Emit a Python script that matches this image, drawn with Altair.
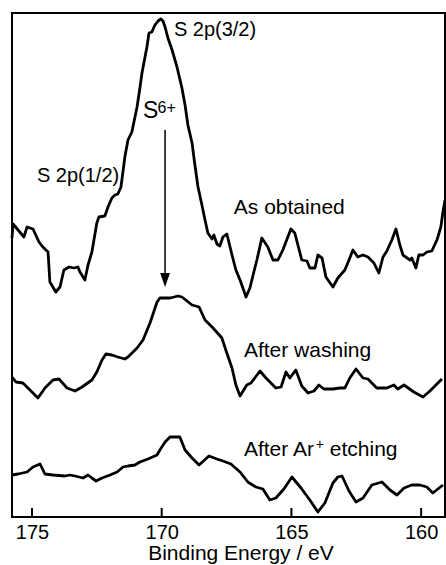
import altair as alt
import pandas as pd

FONT = "Liberation Sans"

# ---- data (binding energy in eV, intensity in arbitrary units) ----
top_ev = [175.77, 175.73, 175.31, 175.19, 174.96, 174.73, 174.58, 174.38, 174.31, 174.08,
          173.92, 173.77, 173.57, 173.38, 173.23, 173.15, 172.96, 172.84, 172.69, 172.50,
          172.42, 172.19, 172.07, 171.92, 171.80, 171.69, 171.57, 171.42, 171.30, 171.15,
          171.03, 170.95, 170.84, 170.76, 170.68, 170.57, 170.49, 170.38, 170.26, 170.14,
          170.03, 169.95, 169.87, 169.76, 169.60, 169.41, 169.22, 169.10, 168.99, 168.83,
          168.72, 168.60, 168.45, 168.33, 168.22, 168.06, 167.99, 167.87, 167.76, 167.64,
          167.49, 167.45, 167.29, 167.14, 166.98, 166.87, 166.75, 166.60, 166.41, 166.33,
          166.14, 165.91, 165.71, 165.52, 165.33, 165.02, 164.87, 164.60, 164.40, 164.29,
          164.09, 163.98, 163.82, 163.67, 163.40, 163.21, 162.94, 162.78, 162.63, 162.44,
          162.24, 162.05, 161.82, 161.63, 161.47, 161.32, 161.13, 160.97, 160.82, 160.70,
          160.43, 160.36, 160.20, 160.09, 159.93, 159.78, 159.59, 159.39, 159.24, 159.16,
          159.08]
top_int = [279, 293, 280, 290, 288, 275, 270, 265, 235, 225,
           230, 247, 250, 249, 250, 245, 237, 252, 265, 294,
           300, 301, 310, 319, 322, 323, 330, 360, 377, 385,
           400, 410, 429, 444, 455, 470, 484, 485, 492, 496,
           498, 496, 490, 479, 467, 450, 429, 412, 392, 374,
           352, 330, 312, 297, 284, 278, 282, 273, 271, 280,
           283, 279, 262, 247, 237, 229, 220, 229, 249, 257,
           279, 270, 257, 257, 267, 288, 284, 257, 256, 249,
           249, 262, 259, 240, 230, 239, 247, 257, 267, 260,
           262, 260, 254, 244, 260, 266, 277, 288, 272, 262,
           257, 259, 249, 262, 262, 265, 266, 277, 290, 305,
           317]

mid_ev = [175.77, 175.62, 175.35, 175.00, 174.77, 174.50, 174.19, 173.96, 173.65, 173.34,
          173.07, 172.69, 172.50, 172.30, 172.15, 171.92, 171.69, 171.42, 171.30, 170.95,
          170.72, 170.45, 170.18, 170.07, 169.68, 169.37, 169.22, 168.83, 168.56, 168.33,
          168.02, 167.68, 167.49, 167.29, 167.14, 166.98, 166.72, 166.56, 166.21, 165.98,
          165.60, 165.40, 165.21, 165.06, 164.83, 164.60, 164.36, 164.13, 163.94, 163.75,
          163.40, 163.13, 162.94, 162.75, 162.51, 162.24, 162.05, 161.71, 161.32, 161.05,
          160.90, 160.66, 160.28, 159.93, 159.66, 159.20]
mid_int = [140, 135, 134, 125, 119, 129, 137, 138, 129, 126,
           130, 137, 145, 157, 163, 162, 160, 158, 160, 169,
           177, 194, 215, 219, 219, 221, 220, 212, 210, 197,
           189, 179, 164, 149, 132, 121, 132, 134, 146, 139,
           129, 130, 145, 139, 147, 131, 124, 126, 132, 128,
           128, 129, 129, 139, 148, 139, 138, 129, 129, 132,
           128, 132, 125, 120, 126, 138]

bot_ev = [175.77, 175.54, 175.19, 174.96, 174.69, 174.50, 174.19, 173.73, 173.54, 173.34,
          173.03, 172.84, 172.69, 172.53, 172.30, 171.99, 171.72, 171.49, 171.30, 171.03,
          170.84, 170.53, 170.18, 170.07, 169.87, 169.68, 169.30, 169.10, 168.83, 168.56,
          168.18, 167.87, 167.64, 167.33, 166.98, 166.68, 166.37, 166.10, 165.83, 165.60,
          165.29, 164.98, 164.63, 164.29, 163.98, 163.71, 163.40, 163.21, 163.05, 162.78,
          162.51, 162.24, 161.90, 161.51, 161.20, 160.93, 160.66, 160.36, 160.05, 159.78,
          159.55, 159.16]
bot_int = [42, 43, 45, 50, 53, 43, 42, 41, 42, 41,
           39, 42, 39, 36, 39, 42, 45, 50, 51, 52,
           55, 58, 62, 67, 75, 80, 80, 67, 59, 52,
           61, 58, 56, 53, 45, 35, 30, 28, 17, 19,
           28, 40, 29, 17, 5, 14, 34, 40, 41, 26,
           15, 19, 32, 35, 27, 22, 29, 32, 32, 30,
           24, 32]

series_names = ["As obtained", "After washing", "After Ar+ etching"]
tick_values = [175, 170, 165, 160]
x_domain = [159.08, 175.77]
y_domain = [0, 504]

# annotation texts and their anchor positions (eV, intensity) with font sizes
ann_text = ["S 2p(3/2)", "S 2p(1/2)", "S", "6+", "As obtained", "After washing",
            "After Ar", "+", "etching"]
ann_ev = [169.53, 174.81, 170.72, 170.16, 167.22, 166.83, 166.83, 164.06, 163.52]
ann_int = [481, 335, 399, 404, 303, 160, 61, 68, 61]
ann_size = [20, 20, 23, 16, 21, 21, 21, 14, 21]

arrow_ev = [169.87]
arrow_top = [387]
arrow_end = [244]
arrow_head = [237]

# ---- build tables ----
frames = []
for name, ev, it in zip(series_names, [top_ev, mid_ev, bot_ev], [top_int, mid_int, bot_int]):
    frames.append(pd.DataFrame({"ev": ev, "intensity": it, "series": name}))
curves = pd.concat(frames, ignore_index=True)
ann = pd.DataFrame({"ev": ann_ev, "intensity": ann_int, "text": ann_text, "fs": ann_size})
arrow = pd.DataFrame({"ev": arrow_ev, "y1": arrow_top, "y2": arrow_end, "head": arrow_head})
ticks = pd.DataFrame({"ev": tick_values})

xscale = alt.Scale(domain=x_domain, reverse=True, nice=False, zero=False)
yscale = alt.Scale(domain=y_domain, nice=False, zero=False)

xaxis = alt.Axis(values=tick_values, format="d", grid=False, ticks=False, tickSize=0,
                 domain=False, labelFontSize=20, labelFont=FONT, labelColor="black",
                 labelPadding=21, labelBaseline="alphabetic",
                 title="Binding Energy / eV", titleFont=FONT, titleFontSize=21,
                 titleFontWeight="normal", titleColor="black", titleX=228.5, titleY=42,
                 titleBaseline="alphabetic", labelFlush=False)

lines = alt.Chart(curves).mark_line(color="black", strokeWidth=2.8, strokeJoin="round").encode(
    x=alt.X("ev:Q", scale=xscale, axis=xaxis),
    y=alt.Y("intensity:Q", scale=yscale, axis=None),
    detail="series:N",
)

tick_marks = alt.Chart(ticks).mark_rule(color="black", strokeWidth=2).encode(
    x=alt.X("ev:Q", scale=xscale),
    y=alt.value(504),
    y2=alt.value(495),
)

labels = alt.Chart(ann).mark_text(align="left", baseline="alphabetic", font=FONT,
                                  color="black").encode(
    x=alt.X("ev:Q", scale=xscale),
    y=alt.Y("intensity:Q", scale=yscale),
    text="text:N",
    size=alt.Size("fs:Q", scale=None, legend=None),
)

arrow_line = alt.Chart(arrow).mark_rule(color="black", strokeWidth=1.5).encode(
    x=alt.X("ev:Q", scale=xscale),
    y=alt.Y("y1:Q", scale=yscale),
    y2="y2:Q",
)

arrow_tip = alt.Chart(arrow).mark_point(
    shape="M-0.7,-1 L0.7,-1 L0,1 Z", filled=True, color="black", size=196, opacity=1
).encode(
    x=alt.X("ev:Q", scale=xscale),
    y=alt.Y("head:Q", scale=yscale),
)

chart = alt.layer(lines, tick_marks, arrow_line, arrow_tip, labels).properties(
    width=433, height=504,
    padding={"left": 12, "top": 13, "right": 1, "bottom": 48},
    autosize="none",
    background="white",
).configure_view(stroke="black", strokeWidth=2)

chart.save("out.html", embed_options={"renderer": "svg", "actions": False})
